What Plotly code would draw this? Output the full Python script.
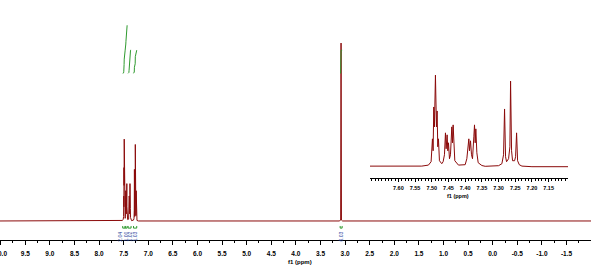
import numpy as np
import plotly.graph_objects as go

# ---------------- data ----------------
ppm = [10.02, 7.56, 7.53, 7.51, 7.502, 7.498, 7.496, 7.494, 7.492, 7.489, 7.486, 7.484,
       7.482, 7.480, 7.477, 7.470, 7.466, 7.462, 7.459, 7.457, 7.454, 7.452, 7.450, 7.447,
       7.444, 7.440, 7.438, 7.436, 7.434, 7.431, 7.420, 7.400, 7.395, 7.391, 7.389, 7.387,
       7.384, 7.381, 7.378, 7.374, 7.372, 7.370, 7.368, 7.365, 7.361, 7.350, 7.340, 7.300,
       7.290, 7.285, 7.282, 7.279, 7.276, 7.270, 7.266, 7.264, 7.261, 7.258, 7.252, 7.249,
       7.246, 7.243, 7.238, 7.230, 7.20, 3.12, 3.09, 3.082, 3.074, 3.05, -2.0]
intensity = [0, 0, 0.3, 0.8, 2.5, 14, 8, 30, 20, 46, 20, 28,
             10, 14, 3, 1.5, 2.5, 6, 17, 9, 16, 8, 12, 4,
             6, 20, 12, 21, 8, 3, 0.8, 1, 4, 11, 14, 8,
             13, 6, 4, 15, 21, 12, 19, 7, 2, 0.6, 0.2, 0.5,
             1.5, 6, 29, 5, 2.5, 4, 10, 43, 8, 3, 3, 5,
             17, 3, 1, 0.3, 0, 0, 0.5, 100, 0.5, 0, 0]

integral_start = [7.52, 7.47, 7.41, 7.30, 3.10]
integral_end = [7.47, 7.43, 7.35, 7.235, 3.06]
integral_label = ["2.04", "1.00", "1.02", "1.03", "6.03"]

main_tickvals = [10.0, 9.5, 9.0, 8.5, 8.0, 7.5, 7.0, 6.5, 6.0, 5.5, 5.0, 4.5, 4.0,
                 3.5, 3.0, 2.5, 2.0, 1.5, 1.0, 0.5, 0.0, -0.5, -1.0, -1.5]
main_ticktext = ["10.0", "9.5", "9.0", "8.5", "8.0", "7.5", "7.0", "6.5", "6.0", "5.5",
                 "5.0", "4.5", "4.0", "3.5", "3.0", "2.5", "2.0", "1.5", "1.0", "0.5",
                 "0.0", "-0.5", "-1.0", "-1.5"]
inset_tickvals = [7.60, 7.55, 7.50, 7.45, 7.40, 7.35, 7.30, 7.25, 7.20, 7.15]
inset_ticktext = ["7.60", "7.55", "7.50", "7.45", "7.40", "7.35", "7.30", "7.25", "7.20", "7.15"]

# ---------------- style ----------------
RED = "#8B0A0A"
GREEN = "#2E9A2E"
BLUE = "#24409A"
FONT = "Liberation Sans"
curve_base = [83, 96, 83, 83, 83]
curve_height = [13, 14, 13, 13, 13]
label_shift = [0.07, 0.0, -0.01, 0.0, 0.0]   # ppm offsets that spread the labels apart

fig = go.Figure()

# main spectrum
fig.add_trace(go.Scatter(x=ppm, y=intensity, mode="lines",
                         line=dict(color=RED, width=1), xaxis="x", yaxis="y",
                         hoverinfo="skip"))

# integral curves (cumulative of spectrum within range)
x_arr = np.array(ppm)
y_arr = np.array(intensity)
for s, e, b, h in zip(integral_start, integral_end, curve_base, curve_height):
    m = (x_arr <= s) & (x_arr >= e)
    xs = np.concatenate([[s], x_arr[m], [e]])
    ys = np.concatenate([[0], y_arr[m], [0]])
    cum = np.cumsum(ys)
    cum = cum / cum[-1]
    fig.add_trace(go.Scatter(x=xs, y=b + h * cum, mode="lines",
                             line=dict(color=GREEN, width=1), xaxis="x", yaxis="y",
                             hoverinfo="skip"))
    fig.add_trace(go.Scatter(x=[s, s, e, e], y=[-2.8, -4.0, -4.0, -2.8], mode="lines",
                             line=dict(color=GREEN, width=1), xaxis="x", yaxis="y",
                             hoverinfo="skip"))

for s, e, lab, d in zip(integral_start, integral_end, integral_label, label_shift):
    fig.add_annotation(x=(s + e) / 2 + d, y=-8.6, xref="x", yref="y", text=lab,
                       textangle=-90, showarrow=False, borderpad=0,
                       font=dict(family=FONT, size=5, color=BLUE))

# inset spectrum
fig.add_trace(go.Scatter(x=ppm, y=intensity, mode="lines",
                         line=dict(color=RED, width=1), xaxis="x2", yaxis="y2",
                         hoverinfo="skip"))

fig.update_layout(
    width=591, height=266,
    margin=dict(l=0, r=0, t=0, b=0, autoexpand=False),
    paper_bgcolor="white", plot_bgcolor="rgba(0,0,0,0)",
    showlegend=False,
    xaxis=dict(domain=[0, 1], range=[10.014, -1.998], anchor="free", position=26 / 266,
               automargin=False,
               showline=True, linecolor="black", linewidth=1, showgrid=False, zeroline=False,
               ticks="outside", ticklen=4, tickcolor="black", tickmode="array",
               tickvals=main_tickvals, ticktext=main_ticktext, ticklabelstandoff=3,
               ticklabeloverflow="allow",
               tickfont=dict(family=FONT, size=6.5, color="black", weight="bold"),
               minor=dict(tickmode="linear", tick0=0, dtick=0.25, ticks="outside",
                          ticklen=2, tickcolor="black")),
    yaxis=dict(domain=[0, 1], range=[-25.3, 124.2], visible=False, fixedrange=True,
               automargin=False),
    xaxis2=dict(domain=[370 / 591, 568 / 591], range=[7.685, 7.092], anchor="y2",
                automargin=False,
                showline=True, linecolor="black", linewidth=1, showgrid=False, zeroline=False,
                ticks="outside", ticklen=3, tickcolor="black", tickmode="array",
                tickvals=inset_tickvals, ticktext=inset_ticktext, ticklabelstandoff=1,
                tickfont=dict(family=FONT, size=5.5, color="black", weight="bold"),
                minor=dict(tickmode="linear", tick0=7.0, dtick=0.01, ticks="outside",
                           ticklen=2, tickcolor="black")),
    yaxis2=dict(domain=[88 / 266, 206 / 266], range=[-5.68, 53.6], visible=False,
                anchor="x2", automargin=False),
)

fig.add_annotation(x=300 / 591, y=0, xref="paper", yref="paper", yanchor="bottom",
                   text="f1 (ppm)", showarrow=False, borderpad=0,
                   font=dict(family=FONT, size=6, color="black", weight="bold"))
fig.add_annotation(x=470 / 591, y=(266 - 196) / 266, xref="paper", yref="paper",
                   yanchor="middle", text="f1 (ppm)", showarrow=False, borderpad=0,
                   font=dict(family=FONT, size=5.5, color="black", weight="bold"))

fig.write_html("out.html")
